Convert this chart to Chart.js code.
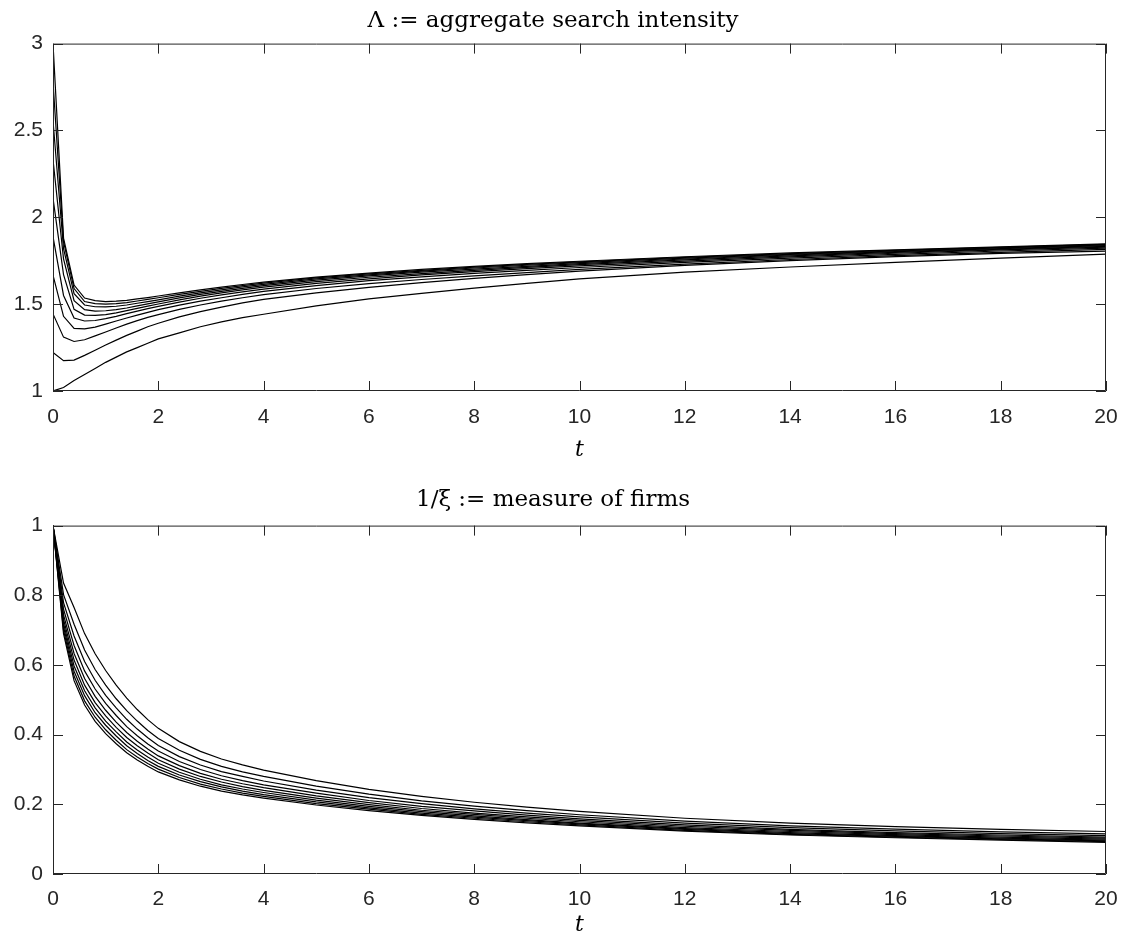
<!DOCTYPE html>
<html>
<head>
<meta charset="utf-8">
<script src="https://cdn.jsdelivr.net/npm/chart.js@4.4.1/dist/chart.umd.min.js"></script>
<style>
  html, body { margin: 0; padding: 0; background: #fff; }
  canvas { position: absolute; left: 0; }
  #c1 { top: 0; }
  #c2 { top: 470px; }
</style>
</head>
<body>
<canvas id="c1" width="1122" height="470"></canvas>
<canvas id="c2" width="1122" height="475"></canvas>
<script>
// time grid shared by every curve
const tGrid = [0, 0.2, 0.4, 0.6, 0.8, 1, 1.2, 1.4, 1.6, 1.8, 2, 2.4, 2.8, 3.2, 3.6, 4, 5, 6, 7, 8, 9, 10, 12, 14, 16, 18, 20];

// top panel: aggregate search intensity, one array per starting value
const lambda0 = [1.0, 1.02, 1.06, 1.095, 1.13, 1.165, 1.195, 1.225, 1.25, 1.275, 1.30, 1.335, 1.37, 1.398, 1.422, 1.442, 1.49, 1.53, 1.562, 1.592, 1.62, 1.645, 1.684, 1.714, 1.741, 1.765, 1.788];
const lambda1 = [1.222, 1.175, 1.178, 1.205, 1.235, 1.265, 1.293, 1.32, 1.345, 1.37, 1.39, 1.427, 1.457, 1.483, 1.507, 1.527, 1.565, 1.597, 1.624, 1.648, 1.67, 1.69, 1.723, 1.751, 1.774, 1.792, 1.805];
const lambda2 = [1.444, 1.31, 1.285, 1.295, 1.317, 1.34, 1.363, 1.385, 1.405, 1.424, 1.44, 1.47, 1.495, 1.517, 1.537, 1.555, 1.59, 1.618, 1.642, 1.663, 1.682, 1.70, 1.73, 1.757, 1.779, 1.798, 1.815];
const lambda3 = [1.667, 1.43, 1.36, 1.358, 1.368, 1.385, 1.403, 1.42, 1.437, 1.453, 1.468, 1.494, 1.517, 1.537, 1.556, 1.573, 1.607, 1.635, 1.657, 1.677, 1.695, 1.711, 1.74, 1.765, 1.787, 1.806, 1.822];
const lambda4 = [1.889, 1.55, 1.42, 1.403, 1.406, 1.417, 1.43, 1.445, 1.46, 1.474, 1.487, 1.512, 1.534, 1.553, 1.571, 1.587, 1.62, 1.646, 1.668, 1.687, 1.704, 1.72, 1.748, 1.772, 1.793, 1.812, 1.828];
const lambda5 = [2.111, 1.67, 1.47, 1.437, 1.435, 1.44, 1.45, 1.463, 1.476, 1.489, 1.501, 1.525, 1.546, 1.565, 1.582, 1.598, 1.63, 1.655, 1.676, 1.695, 1.712, 1.727, 1.755, 1.778, 1.798, 1.816, 1.833];
const lambda6 = [2.333, 1.76, 1.52, 1.468, 1.46, 1.462, 1.468, 1.478, 1.49, 1.502, 1.513, 1.536, 1.556, 1.574, 1.591, 1.607, 1.638, 1.663, 1.684, 1.702, 1.718, 1.733, 1.76, 1.783, 1.802, 1.82, 1.837];
const lambda7 = [2.556, 1.82, 1.56, 1.495, 1.485, 1.484, 1.488, 1.495, 1.505, 1.515, 1.525, 1.546, 1.565, 1.582, 1.599, 1.614, 1.645, 1.669, 1.69, 1.708, 1.724, 1.739, 1.765, 1.787, 1.806, 1.824, 1.841];
const lambda8 = [2.778, 1.86, 1.59, 1.515, 1.503, 1.50, 1.503, 1.509, 1.518, 1.527, 1.537, 1.556, 1.574, 1.591, 1.607, 1.621, 1.651, 1.674, 1.695, 1.713, 1.729, 1.743, 1.769, 1.791, 1.81, 1.827, 1.844];
const lambda9 = [3.0, 1.88, 1.61, 1.535, 1.52, 1.515, 1.517, 1.522, 1.53, 1.538, 1.547, 1.565, 1.582, 1.598, 1.613, 1.627, 1.656, 1.679, 1.70, 1.718, 1.733, 1.747, 1.773, 1.795, 1.813, 1.83, 1.847];

// bottom panel: measure of firms
const firms0 = [1, 0.835, 0.765, 0.69, 0.632, 0.584, 0.542, 0.505, 0.472, 0.443, 0.418, 0.38, 0.352, 0.33, 0.313, 0.298, 0.268, 0.243, 0.223, 0.206, 0.192, 0.18, 0.16, 0.146, 0.136, 0.128, 0.122];
const firms1 = [1, 0.802, 0.717, 0.643, 0.587, 0.542, 0.503, 0.469, 0.439, 0.412, 0.389, 0.355, 0.329, 0.309, 0.293, 0.280, 0.252, 0.229, 0.210, 0.195, 0.182, 0.170, 0.152, 0.138, 0.129, 0.121, 0.115];
const firms2 = [1, 0.779, 0.683, 0.610, 0.556, 0.513, 0.477, 0.444, 0.416, 0.391, 0.369, 0.337, 0.313, 0.294, 0.280, 0.267, 0.241, 0.219, 0.202, 0.187, 0.175, 0.164, 0.146, 0.133, 0.124, 0.116, 0.110];
const firms3 = [1, 0.760, 0.656, 0.583, 0.531, 0.490, 0.455, 0.423, 0.397, 0.373, 0.353, 0.323, 0.300, 0.282, 0.268, 0.256, 0.232, 0.211, 0.194, 0.181, 0.169, 0.158, 0.141, 0.128, 0.119, 0.112, 0.106];
const firms4 = [1, 0.744, 0.633, 0.561, 0.510, 0.470, 0.436, 0.406, 0.381, 0.359, 0.339, 0.311, 0.289, 0.272, 0.259, 0.248, 0.224, 0.205, 0.188, 0.175, 0.164, 0.154, 0.137, 0.125, 0.116, 0.109, 0.103];
const firms5 = [1, 0.731, 0.614, 0.542, 0.492, 0.454, 0.421, 0.392, 0.368, 0.347, 0.328, 0.301, 0.280, 0.264, 0.251, 0.240, 0.218, 0.199, 0.183, 0.171, 0.160, 0.150, 0.133, 0.122, 0.113, 0.106, 0.100];
const firms6 = [1, 0.719, 0.597, 0.526, 0.477, 0.439, 0.408, 0.379, 0.356, 0.336, 0.318, 0.292, 0.272, 0.256, 0.244, 0.234, 0.212, 0.194, 0.179, 0.167, 0.156, 0.146, 0.130, 0.119, 0.110, 0.103, 0.097];
const firms7 = [1, 0.709, 0.582, 0.512, 0.463, 0.427, 0.396, 0.368, 0.346, 0.326, 0.309, 0.284, 0.265, 0.250, 0.238, 0.228, 0.207, 0.190, 0.175, 0.163, 0.153, 0.144, 0.128, 0.116, 0.108, 0.101, 0.095];
const firms8 = [1, 0.699, 0.568, 0.497, 0.450, 0.414, 0.384, 0.357, 0.336, 0.317, 0.301, 0.277, 0.258, 0.244, 0.232, 0.223, 0.202, 0.186, 0.171, 0.160, 0.150, 0.141, 0.125, 0.114, 0.106, 0.099, 0.093];
const firms9 = [1, 0.69, 0.555, 0.485, 0.438, 0.403, 0.374, 0.348, 0.327, 0.309, 0.293, 0.27, 0.252, 0.238, 0.227, 0.218, 0.198, 0.182, 0.168, 0.157, 0.147, 0.138, 0.123, 0.112, 0.104, 0.097, 0.091];

const lambdaSeries = [lambda0, lambda1, lambda2, lambda3, lambda4, lambda5, lambda6, lambda7, lambda8, lambda9];
const firmsSeries = [firms0, firms1, firms2, firms3, firms4, firms5, firms6, firms7, firms8, firms9];

const xTicks = [0, 2, 4, 6, 8, 10, 12, 14, 16, 18, 20];
const lambdaTicks = [1, 1.5, 2, 2.5, 3];
const firmsTicks = [0, 0.2, 0.4, 0.6, 0.8, 1];

// MATLAB-style box with inward ticks on all four sides
const matlabBox = {
  id: 'matlabBox',
  afterDatasetsDraw(chart) {
    const { ctx, chartArea: a, scales: { x, y } } = chart;
    const len = 10;
    ctx.save();
    ctx.strokeStyle = '#262626';
    ctx.lineWidth = 1;
    ctx.beginPath();
    ctx.rect(a.left + 0.5, a.top + 0.5, a.right - a.left - 1, a.bottom - a.top - 1);
    x.ticks.forEach(t => {
      const px = Math.round(x.getPixelForValue(t.value)) + 0.5;
      ctx.moveTo(px, a.bottom); ctx.lineTo(px, a.bottom - len);
      ctx.moveTo(px, a.top); ctx.lineTo(px, a.top + len);
    });
    y.ticks.forEach(t => {
      const py = Math.round(y.getPixelForValue(t.value)) + 0.5;
      ctx.moveTo(a.left, py); ctx.lineTo(a.left + len, py);
      ctx.moveTo(a.right, py); ctx.lineTo(a.right - len, py);
    });
    ctx.stroke();
    ctx.restore();
  }
};

function makePanel(id, title, series, yTicks, o) {
  const datasets = series.map(vals => ({
    data: tGrid.map((t, i) => ({ x: t, y: vals[i] })),
    borderColor: '#000',
    borderWidth: 1.2,
    pointRadius: 0,
    tension: 0,
    fill: false
  }));
  new Chart(document.getElementById(id), {
    type: 'line',
    data: { datasets },
    plugins: [matlabBox],
    options: {
      responsive: false,
      animation: false,
      layout: { padding: { left: 0, right: 16, top: 0, bottom: 0 } },
      plugins: {
        legend: { display: false },
        tooltip: { enabled: false },
        title: {
          display: true,
          text: title,
          color: '#000',
          font: { family: 'DejaVu Serif', size: 23, weight: 'normal', lineHeight: 1.2 },
          padding: o.titlePad
        }
      },
      scales: {
        x: {
          type: 'linear',
          min: 0, max: 20,
          afterBuildTicks: s => { s.ticks = xTicks.map(v => ({ value: v })); },
          afterFit: s => { s.height = o.xHeight; s.paddingLeft = 0; s.paddingRight = 0; },
          grid: { display: false, drawTicks: false },
          border: { display: false },
          ticks: { color: '#262626', padding: o.xPad, font: { family: 'Liberation Sans', size: 21 }, callback: v => String(v) },
          title: { display: true, text: 't', color: '#000', font: { family: 'DejaVu Serif', style: 'italic', size: 22 }, padding: { top: 0, bottom: 7 } }
        },
        y: {
          min: yTicks[0], max: yTicks[yTicks.length - 1],
          afterBuildTicks: s => { s.ticks = yTicks.map(v => ({ value: v })); },
          afterFit: s => { s.width = 53; s.paddingTop = 0; s.paddingBottom = 0; },
          grid: { display: false, drawTicks: false },
          border: { display: false },
          ticks: { color: '#262626', padding: 10, font: { family: 'Liberation Sans', size: 21 }, callback: v => String(Math.round(v * 10) / 10) }
        }
      }
    }
  });
}

makePanel('c1', 'Λ := aggregate search intensity', lambdaSeries, lambdaTicks,
  { titlePad: { top: 7, bottom: 9 }, xHeight: 79, xPad: 14 });
makePanel('c2', '1/ξ := measure of firms', firmsSeries, firmsTicks,
  { titlePad: { top: 16, bottom: 12 }, xHeight: 71, xPad: 13 });
</script>
</body>
</html>
